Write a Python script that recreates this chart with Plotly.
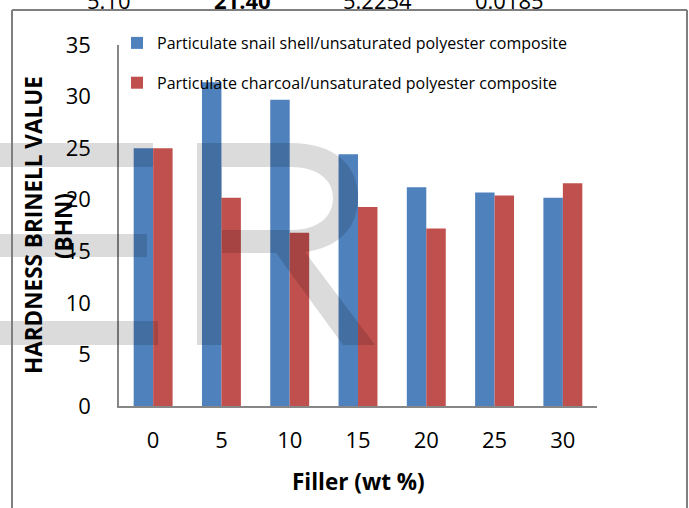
import plotly.graph_objects as go

categories = ["0", "5", "10", "15", "20", "25", "30"]
snail_shell = [25.0, 31.4, 29.7, 24.4, 21.2, 20.7, 20.2]
charcoal = [25.0, 20.2, 16.8, 19.3, 17.2, 20.4, 21.6]
series_names = ["Particulate snail shell/unsaturated polyester composite",
                "Particulate charcoal/unsaturated polyester composite"]
y_ticks = [0, 5, 10, 15, 20, 25, 30, 35]
top_texts = ["5.10", "<b>21.40</b>", "5.2254", "0.0185"]

W, H = 689, 508
L, R, T, B = 119, 92, 45, 102
PW, PH = W - L - R, H - T - B


def px(x):
    return (x - L) / PW


def py(y):
    return (H - B - y) / PH


def path(cmds):
    out = []
    for c in cmds:
        if isinstance(c, str):
            out.append(c)
        else:
            out.append(f"{px(c[0]):.5f},{py(c[1]):.5f}")
    return " ".join(out)


FONT = "Open Sans"
BLUE = "#4F81BD"
RED = "#C0504D"

fig = go.Figure()
fig.add_trace(go.Bar(x=categories, y=snail_shell, name=series_names[0],
                     marker=dict(color=BLUE, line=dict(width=0)), legendgroup="a"))
fig.add_trace(go.Bar(x=categories, y=charcoal, name=series_names[1],
                     marker=dict(color=RED, line=dict(width=0)), legendgroup="b"))

wm = "rgba(0,0,0,0.14)"
e_path = path(["M", (0, 143), "L", (153, 143), "L", (153, 167), "L", (0, 167), "Z",
               "M", (0, 234), "L", (147, 234), "L", (147, 257), "L", (0, 257), "Z",
               "M", (0, 321), "L", (158, 321), "L", (158, 345), "L", (0, 345), "Z"])
r_path = path(["M", (197, 345), "L", (197, 143), "L", (290, 143),
               "C", (335, 143), (358, 165), (358, 198),
               "C", (358, 228), (338, 248), (305, 252),
               "L", (375, 345), "L", (343, 345), "L", (276, 253),
               "L", (222, 253), "L", (222, 345), "Z",
               "M", (222, 167), "L", (222, 230), "L", (290, 230),
               "C", (318, 230), (333, 217), (333, 198),
               "C", (333, 180), (318, 167), (290, 167), "Z"])

frame = dict(color="#7F7F7F", width=2)
shapes = [
    dict(type="path", xref="paper", yref="paper", path=e_path, fillcolor=wm,
         line=dict(width=0), layer="above"),
    dict(type="path", xref="paper", yref="paper", path=r_path, fillcolor=wm,
         line=dict(width=0), layer="above"),
    dict(type="line", xref="paper", yref="paper", x0=px(12), x1=px(687), y0=py(10), y1=py(10),
         line=frame, layer="above"),
    dict(type="line", xref="paper", yref="paper", x0=px(12), x1=px(12), y0=py(10), y1=py(520),
         line=frame, layer="above"),
    dict(type="line", xref="paper", yref="paper", x0=px(687), x1=px(687), y0=py(10), y1=py(520),
         line=frame, layer="above"),
]

annotations = [
    dict(text="<b>HARDNESS BRINELL VALUE</b>", textangle=-90, xref="paper", yref="paper",
         x=px(33), y=py(225), showarrow=False, font=dict(family=FONT, size=22.5, color="black"),
         xanchor="center", yanchor="middle"),
    dict(text="<b>(BHN)</b>", textangle=-90, xref="paper", yref="paper",
         x=px(63), y=py(226), showarrow=False, font=dict(family=FONT, size=22.5, color="black"),
         xanchor="center", yanchor="middle"),
    dict(text="<b>Filler (wt %)</b>", xref="paper", yref="paper",
         x=px(358), y=py(481), showarrow=False, font=dict(family=FONT, size=22.5, color="black"),
         xanchor="center", yanchor="middle"),
]
for t, cx in zip(top_texts, [109, 242, 377, 509]):
    annotations.append(dict(text=t, xref="paper", yref="paper", x=px(cx), y=py(0),
                            showarrow=False, font=dict(family=FONT, size=22, color="black"),
                            xanchor="center", yanchor="middle"))

fig.update_layout(
    width=W, height=H,
    margin=dict(l=L, r=R, t=T, b=B, autoexpand=False),
    paper_bgcolor="white", plot_bgcolor="white",
    barmode="group", bargap=0.43, bargroupgap=0,
    font=dict(family=FONT, size=22, color="black"),
    showlegend=True,
    legend=dict(x=px(117), y=py(26), xanchor="left", yanchor="top",
                font=dict(family=FONT, size=16, color="black"),
                bgcolor="rgba(0,0,0,0)", tracegroupgap=16, itemwidth=30),
    xaxis=dict(showgrid=False, showline=True, linecolor="#868686", linewidth=1.5,
               ticks="", tickfont=dict(family=FONT, size=22), ticklabelstandoff=14,
               zeroline=False),
    yaxis=dict(range=[0, 35], tickvals=y_ticks, showgrid=False, showline=True,
               linecolor="#868686", linewidth=1.5, ticks="",
               tickfont=dict(family=FONT, size=22), ticklabelstandoff=22, zeroline=False),
    shapes=shapes,
    annotations=annotations,
)

fig.write_html("out.html", config={"displayModeBar": False},
               post_script="document.body.style.margin='0';")
